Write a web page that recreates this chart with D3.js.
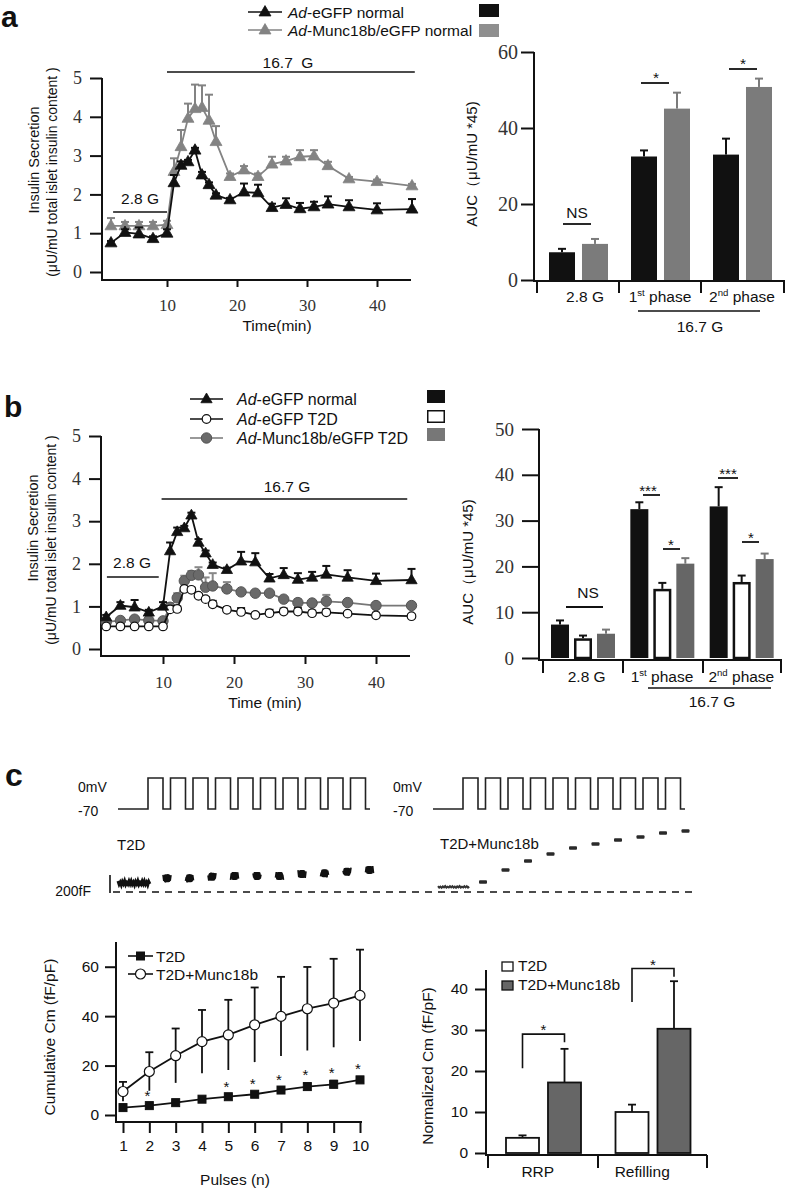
<!DOCTYPE html>
<html><head><meta charset="utf-8">
<script src="https://cdn.jsdelivr.net/npm/d3@7/dist/d3.min.js"></script>
<style>html,body{margin:0;padding:0;background:#fff}</style>
</head><body>
<svg id="fig" width="790" height="1191" xmlns="http://www.w3.org/2000/svg"></svg>
<script>
// ================= DATA =================
// Panel a / b : perifusion time course
const timeMin = [2,4,6,8,10,11,12,13,14,15,16,17,19,21,23,25,27,29,31,33,36,40,45];
const eGFPNormal = [0.75,1.02,0.98,0.86,1.0,2.3,2.75,2.84,3.14,2.5,2.25,1.98,1.86,2.06,2.04,1.66,1.74,1.63,1.68,1.75,1.68,1.6,1.62];
const eGFPNormalErr = [0.05,0.08,0.17,0.06,0.1,0.2,0.1,0.05,0.06,0.08,0.06,0.05,0.05,0.22,0.21,0.1,0.16,0.15,0.13,0.2,0.17,0.17,0.26];
const munc18bNormal = [1.19,1.19,1.19,1.19,1.22,2.59,3.23,3.96,4.21,4.24,3.91,3.36,2.46,2.63,2.46,2.78,2.86,2.97,2.99,2.74,2.4,2.33,2.22];
const munc18bNormalErr = [0.2,0.1,0.1,0.1,0.1,0.34,0.43,0.38,0.62,0.57,0.66,0.4,0.08,0.1,0.08,0.19,0.11,0.17,0.15,0.1,0.05,0.05,0.05];
const eGFPT2D = [0.53,0.53,0.53,0.53,0.53,0.93,0.94,1.41,1.39,1.25,1.17,1.05,0.92,0.87,0.8,0.84,0.88,0.88,0.84,0.86,0.83,0.79,0.77];
const eGFPT2DErr = [0.03,0.03,0.03,0.03,0.03,0.08,0.06,0.05,0.05,0.05,0.05,0.08,0.06,0.09,0.05,0.08,0.07,0.08,0.06,0.07,0.04,0.06,0.04];
const munc18bT2D = [0.63,0.67,0.7,0.67,0.66,0.98,1.2,1.6,1.73,1.74,1.45,1.48,1.41,1.34,1.31,1.31,1.17,1.09,1.08,1.12,1.09,1.02,1.02];
const munc18bT2DErr = [0.05,0.05,0.05,0.05,0.05,0.1,0.11,0.12,0.1,0.18,0.23,0.3,0.16,0.05,0.05,0.05,0.05,0.08,0.05,0.15,0.05,0.05,0.05];
const lowGlucose = [2.3, 10];     // 2.8 G period (min)
const highGlucose = [10, 45.4];   // 16.7 G period (min)
const timeTicks = [10,20,30,40];
const secretionTicks = [0,1,2,3,4,5];

// AUC bars
const aucCategories = ["2.8 G","1st phase","2nd phase"];
const aucA_eGFP = [7.3, 32.5, 33.0];
const aucA_eGFPErr = [0.9, 1.6, 4.2];
const aucA_munc = [9.5, 45.1, 50.8];
const aucA_muncErr = [1.3, 4.2, 2.2];
const aucA_ticks = [0,20,40,60];
const aucB_normal = [7.3, 32.5, 33.1];
const aucB_normalErr = [0.9, 1.5, 4.2];
const aucB_T2D = [4.3, 15.1, 16.6];
const aucB_T2DErr = [0.6, 1.3, 1.4];
const aucB_munc = [5.3, 20.6, 21.6];
const aucB_muncErr = [0.9, 1.2, 1.2];
const aucB_ticks = [0,10,20,30,40,50];

// Panel c : capacitance traces (fF above reference)
const pulseCount = 10;
const traceT2DBase = 100;
const traceT2DSteps = [152,152,170,178,178,178,200,207,226,244];
const traceMuncBase = 56;
const traceMuncSteps = [111,244,344,422,489,533,578,611,656,678];

// Panel c : cumulative Cm
const pulses = [1,2,3,4,5,6,7,8,9,10];
const cmT2D = [3.0,3.8,5.0,6.4,7.4,8.4,10.1,11.5,12.4,14.2];
const cmT2DErr = [0.5,0.5,0.5,0.6,0.8,0.8,1.0,1.3,1.5,1.3];
const cmMunc = [9.5,17.6,24.0,29.7,32.4,36.5,39.9,43.0,45.3,48.4];
const cmMuncErr = [3.9,7.8,11.0,12.8,14.2,15.1,16.0,16.9,17.9,18.5];
const sigPulses = [2,5,6,7,8,9,10];
const cmTicks = [0,20,40,60];

// Panel c : normalized Cm
const poolCategories = ["RRP","Refilling"];
const poolT2D = [3.7, 10.0];
const poolT2DErr = [0.6, 1.8];
const poolMunc = [17.2, 30.3];
const poolMuncErr = [8.2, 11.6];
const poolTicks = [0,10,20,30,40];

// ================= HELPERS =================
const svg = d3.select("#fig");
svg.append("rect").attr("width",790).attr("height",1191).attr("fill","#fff");
const SANS = "'Liberation Sans', Arial, Helvetica, sans-serif";
const SERIF = "'Liberation Serif', 'Times New Roman', serif";
const intFmt = d3.format("d");

function txt(x, y, s, o = {}) {
  const t = svg.append("text").attr("x", x).attr("y", y).text(s)
    .attr("font-family", o.family || SANS).attr("font-size", o.size || 15)
    .attr("fill", o.fill || "#111").attr("text-anchor", o.anchor || "start");
  if (o.weight) t.attr("font-weight", o.weight);
  if (o.rotate) t.attr("transform", `rotate(-90,${x},${y})`);
  return t;
}
function ln(x1, y1, x2, y2, o = {}) {
  return svg.append("line").attr("x1", x1).attr("y1", y1).attr("x2", x2).attr("y2", y2)
    .attr("stroke", o.color || "#111").attr("stroke-width", o.w || 2)
    .attr("stroke-dasharray", o.dash || null);
}
function styleAxis(g, size, family, fill) {
  g.select(".domain").remove();
  g.selectAll(".tick line").attr("stroke", "#111").attr("stroke-width", 2);
  g.selectAll(".tick text").attr("font-family", family).attr("font-size", size).attr("fill", fill);
}
function yAxis(scale, x, ticks, tsize, pad, fsize, family, fill) {
  const g = svg.append("g").attr("transform", `translate(${x},0)`)
    .call(d3.axisLeft(scale).tickValues(ticks).tickFormat(intFmt).tickSize(tsize).tickPadding(pad));
  styleAxis(g, fsize, family, fill);
  return g;
}
function xAxis(scale, y, ticks, tsize, pad, fsize, family, fill) {
  const g = svg.append("g").attr("transform", `translate(0,${y})`)
    .call(d3.axisBottom(scale).tickValues(ticks).tickFormat(intFmt).tickSize(tsize).tickPadding(pad));
  styleAxis(g, fsize, family, fill);
  return g;
}
function marker(x, y, type, st) {
  if (type === "tri") {
    svg.append("path").attr("d", d3.symbol(d3.symbolTriangle).size(st.size || 55)())
      .attr("transform", `translate(${x},${y + 0.5})`).attr("fill", st.fill).attr("stroke", st.stroke || st.fill).attr("stroke-width", 0.8);
  } else if (type === "circle") {
    svg.append("circle").attr("cx", x).attr("cy", y).attr("r", st.r || 4.5)
      .attr("fill", st.fill).attr("stroke", st.stroke).attr("stroke-width", st.sw || 1.2);
  } else if (type === "square") {
    const s = st.s || 8;
    svg.append("rect").attr("x", x - s / 2).attr("y", y - s / 2).attr("width", s).attr("height", s)
      .attr("fill", st.fill).attr("stroke", st.stroke || st.fill);
  }
}
function series(xs, ys, errs, xs_, ys_, st, both) {
  svg.append("path").datum(ys)
    .attr("d", d3.line().x((d, i) => xs_(xs[i])).y(d => ys_(d)))
    .attr("fill", "none").attr("stroke", st.line).attr("stroke-width", st.lw || 1.8);
  ys.forEach((v, i) => {
    const x = xs_(xs[i]);
    const top = ys_(v + errs[i]);
    const bot = both ? ys_(v - errs[i]) : ys_(v);
    ln(x, bot, x, top, { color: st.err, w: st.ew || 2 });
    ln(x - 4, top, x + 4, top, { color: st.err, w: st.ew || 2 });
  });
  ys.forEach((v, i) => marker(xs_(xs[i]), ys_(v), st.type, st));
}
function legendLine(x1, x2, y, type, st, label, lx, size) {
  ln(x1, y, x2, y, { color: st.line, w: 1.6 });
  marker((x1 + x2) / 2, y, type, st);
  const t = svg.append("text").attr("x", lx).attr("y", y + 5.5)
    .attr("font-family", SANS).attr("font-size", size).attr("fill", "#111");
  if (label.startsWith("Ad-")) {
    t.append("tspan").attr("font-style", "italic").text("Ad");
    t.append("tspan").text(label.slice(2));
  } else t.text(label);
}
function catLabel(x, y, cat, size) {
  const t = svg.append("text").attr("x", x).attr("y", y).attr("text-anchor", "middle")
    .attr("font-family", SANS).attr("font-size", size).attr("fill", "#111");
  const m = cat.match(/^(\d)(st|nd) (.*)$/);
  if (m) {
    t.append("tspan").text(m[1]);
    t.append("tspan").attr("font-size", size * 0.62).attr("dy", -size * 0.38).text(m[2]);
    t.append("tspan").attr("dy", size * 0.38).text(" " + m[3]);
  } else t.text(cat);
}
function errUp(x, v, e, yS, color, w, cap) {
  ln(x, yS(v), x, yS(v + e), { color: color, w: w || 2 });
  ln(x - (cap || 4), yS(v + e), x + (cap || 4), yS(v + e), { color: color, w: w || 2 });
}

// ================= PANEL LABELS =================
txt(1, 27, "a", { size: 30, weight: "bold" });
txt(4, 417, "b", { size: 30, weight: "bold" });
txt(5, 786, "c", { size: 32, weight: "bold" });

// ================= PANEL a : time course =================
{
  const x = d3.scaleLinear().domain([0, 45]).range([97, 412]);
  const y = d3.scaleLinear().domain([0, 5]).range([272, 78]);
  yAxis(y, 102, secretionTicks, 12, 8, 18, SERIF, "#333");
  xAxis(x, 280, timeTicks, 7, 12, 17, SERIF, "#333");
  ln(102, 78, 102, 281);
  ln(101, 280, 411, 280);
  txt(277, 331, "Time(min)", { anchor: "middle", size: 15.5 });
  txt(39, 160, "Insulin Secretion", { anchor: "middle", size: 14.5, rotate: true });
  txt(57, 172, "(μU/mU total islet insulin content )", { anchor: "middle", size: 14, rotate: true });
  ln(x(highGlucose[0]), 72, x(highGlucose[1]), 72, { w: 1.6 });
  txt(288, 68, "16.7\u00a0\u00a0G", { anchor: "middle", size: 15.5 });
  ln(x(lowGlucose[0]), 212, x(lowGlucose[1]), 212, { w: 1.6 });
  txt(140, 204, "2.8 G", { anchor: "middle", size: 15.5 });
  const gray = { line: "#838383", err: "#838383", fill: "#838383", type: "tri", size: 62 };
  const black = { line: "#111", err: "#111", fill: "#111", type: "tri", size: 62 };
  series(timeMin, munc18bNormal, munc18bNormalErr, x, y, gray, false);
  series(timeMin, eGFPNormal, eGFPNormalErr, x, y, black, false);
  legendLine(248, 282, 12, "tri", black, "Ad-eGFP normal", 288, 15.5);
  legendLine(248, 282, 30, "tri", gray, "Ad-Munc18b/eGFP normal", 288, 15.5);
  svg.append("rect").attr("x", 479).attr("y", 4).attr("width", 20).attr("height", 13).attr("fill", "#111");
  svg.append("rect").attr("x", 479).attr("y", 24).attr("width", 20).attr("height", 13).attr("fill", "#8f8f8f");
}

// ================= PANEL a : AUC bars =================
{
  const y = d3.scaleLinear().domain([0, 60]).range([280, 52]);
  const xb = d3.scaleBand().domain(aucCategories).range([537, 783]);
  const xs = d3.scaleBand().domain(["eGFP", "munc"]).range([12, 71]).paddingInner(0.212);
  yAxis(y, 534, aucA_ticks, 13, 3, 20, SERIF, "#333");
  ln(534, 52, 534, 282);
  ln(533, 281, 785, 281);
  [537, 619, 701, 784].forEach(v => ln(v, 281, v, 293));
  const groups = [[aucA_eGFP, aucA_eGFPErr, "#111", "eGFP"], [aucA_munc, aucA_muncErr, "#7b7b7b", "munc"]];
  groups.forEach(([vals, errs, col, key]) => {
    vals.forEach((v, i) => {
      const bx = xb(aucCategories[i]) + xs(key);
      errUp(bx + xs.bandwidth() / 2, v, errs[i], y, col, 2, 4);
      svg.append("rect").attr("x", bx).attr("y", y(v)).attr("width", xs.bandwidth())
        .attr("height", y(0) - y(v)).attr("fill", col);
    });
  });
  aucCategories.forEach((c, i) => catLabel(xb(c) + xb.bandwidth() / 2 + (i === 0 ? 7 : 0), 302, c, 15.5));
  ln(638, 311, 760, 311, { w: 1.6 });
  txt(700, 332, "16.7 G", { anchor: "middle", size: 15.5 });
  // significance
  ln(563, 224, 591, 224, { w: 1.8 });
  txt(577, 218, "NS", { anchor: "middle", size: 15.5 });
  ln(641, 83, 669, 83, { w: 1.8 });
  txt(656, 83, "*", { anchor: "middle", size: 15.5 });
  ln(729, 69, 757, 69, { w: 1.8 });
  txt(743, 69, "*", { anchor: "middle", size: 15.5 });
  txt(477, 164, "AUC（μU/mU *45)", { anchor: "middle", size: 15, rotate: true });
}

// ================= PANEL b : time course =================
{
  const x = d3.scaleLinear().domain([0, 45]).range([92, 411.5]);
  const y = d3.scaleLinear().domain([0, 5]).range([649, 436]);
  yAxis(y, 101, secretionTicks, 12, 8, 18, SERIF, "#333");
  xAxis(x, 656, timeTicks, 8, 12, 17, SERIF, "#333");
  ln(101, 436, 101, 657);
  ln(100, 656, 410, 656);
  txt(265, 708, "Time (min)", { anchor: "middle", size: 15.5 });
  txt(38, 528, "Insulin Secretion", { anchor: "middle", size: 14.5, rotate: true });
  txt(56, 540, "(μU/mU total islet insulin content )", { anchor: "middle", size: 14, rotate: true });
  ln(x(9.8), 499, x(44.4), 499, { w: 1.6 });
  txt(287, 492, "16.7 G", { anchor: "middle", size: 15.5 });
  ln(x(2.1), 577, x(9.4), 577, { w: 1.6 });
  txt(132, 568, "2.8 G", { anchor: "middle", size: 15.5 });
  const grayC = { line: "#777", err: "#888", fill: "#6a6a6a", stroke: "#555", type: "circle", r: 5.2, sw: 1 };
  const openC = { line: "#111", err: "#111", fill: "#fff", stroke: "#111", type: "circle", r: 4.3, sw: 1.2 };
  const blackT = { line: "#111", err: "#111", fill: "#111", type: "tri", size: 55 };
  series(timeMin, munc18bT2D, munc18bT2DErr, x, y, grayC, false);
  series(timeMin, eGFPT2D, eGFPT2DErr, x, y, openC, false);
  series(timeMin, eGFPNormal, eGFPNormalErr, x, y, blackT, false);
  legendLine(190, 223, 399, "tri", blackT, "Ad-eGFP normal", 237, 16);
  legendLine(190, 223, 419, "circle", openC, "Ad-eGFP T2D", 237, 16);
  legendLine(190, 223, 438, "circle", grayC, "Ad-Munc18b/eGFP T2D", 237, 16);
  svg.append("rect").attr("x", 427).attr("y", 390).attr("width", 18).attr("height", 13).attr("fill", "#111");
  svg.append("rect").attr("x", 427.75).attr("y", 410.75).attr("width", 16.5).attr("height", 11.5).attr("fill", "#fff").attr("stroke", "#111").attr("stroke-width", 1.5);
  svg.append("rect").attr("x", 427).attr("y", 428).attr("width", 18).attr("height", 13).attr("fill", "#777");
}

// ================= PANEL b : AUC bars =================
{
  const y = d3.scaleLinear().domain([0, 50]).range([658, 429]);
  const xb = d3.scaleBand().domain(aucCategories).range([543, 781]);
  const xs = d3.scaleBand().domain(["normal", "t2d", "munc"]).range([8, 72]).paddingInner(0.217);
  yAxis(y, 539, aucB_ticks, 17, 8, 19, SERIF, "#333");
  ln(539, 429, 539, 661);
  ln(538, 660, 782, 660);
  [543, 623, 703, 781].forEach(v => ln(v, 660, v, 673));
  const groups = [
    [aucB_normal, aucB_normalErr, "#111", "#111", "normal"],
    [aucB_T2D, aucB_T2DErr, "#fff", "#111", "t2d"],
    [aucB_munc, aucB_muncErr, "#666", "#777", "munc"]];
  groups.forEach(([vals, errs, fill, ecol, key]) => {
    vals.forEach((v, i) => {
      const bx = xb(aucCategories[i]) + xs(key);
      errUp(bx + xs.bandwidth() / 2, v, errs[i], y, ecol, 2, 4);
      const r = svg.append("rect").attr("x", bx).attr("y", y(v)).attr("width", xs.bandwidth())
        .attr("height", y(0) - y(v)).attr("fill", fill);
      if (key === "t2d") r.attr("x", bx + 1.25).attr("width", xs.bandwidth() - 2.5).attr("y", y(v) + 1.25)
        .attr("height", y(0) - y(v) - 1.25).attr("stroke", "#111").attr("stroke-width", 2.5);
    });
  });
  aucCategories.forEach((c, i) => catLabel(xb(c) + xb.bandwidth() / 2 + (i === 0 ? 4 : 0), 682, c, 15.5));
  ln(648, 688, 771, 688, { w: 1.6 });
  txt(712, 707, "16.7 G", { anchor: "middle", size: 15.5 });
  ln(566, 607, 603, 607, { w: 1.8 });
  txt(588, 598, "NS", { anchor: "middle", size: 15.5 });
  ln(643, 495, 660, 495, { w: 1.8 });
  txt(648, 496, "***", { anchor: "middle", size: 15 });
  ln(663, 549, 680, 549, { w: 1.8 });
  txt(671, 550, "*", { anchor: "middle", size: 15 });
  ln(718, 478, 738, 478, { w: 1.8 });
  txt(728, 479, "***", { anchor: "middle", size: 15 });
  ln(742, 542, 759, 542, { w: 1.8 });
  txt(751, 543, "*", { anchor: "middle", size: 15 });
  txt(473, 562, "AUC（μU/mU *45)", { anchor: "middle", size: 15, rotate: true });
}

// ================= PANEL c : traces =================
{
  const pre = 30, high = 15, period = 22.5, total = 252;
  const t = d3.scaleLinear().domain([0, total]).range([0, total]);
  const v = d3.scaleLinear().domain([-70, 0]).range([809, 778]);
  const cm = d3.scaleLinear().domain([0, 200]).range([892, 874]);
  const protocol = [[0, -70]];
  for (let k = 0; k < pulseCount; k++) {
    const s = pre + k * period;
    protocol.push([s, -70], [s, 0], [s + high, 0], [s + high, -70]);
  }
  protocol.push([total, -70]);
  [118, 433].forEach((ox) => {
    svg.append("path").datum(protocol)
      .attr("d", d3.line().x(d => ox + t(d[0])).y(d => v(d[1])))
      .attr("fill", "none").attr("stroke", "#222").attr("stroke-width", 1.6);
    txt(ox - 40, 792, "0mV", { size: 14 });
    txt(ox - 40, 816, "-70", { size: 14 });
  });
  // reference dashed line & scale bar
  ln(113, cm(0), 698, cm(0), { w: 1.6, dash: "7,6" });
  ln(110, 875, 110, 893, { w: 1.6 });
  txt(91, 896, "200fF", { anchor: "end", size: 14 });
  txt(117, 850, "T2D", { size: 15 });
  txt(440, 849, "T2D+Munc18b", { size: 15 });
  const jitter = [-1.6, 1.2, -0.6, 1.8, -1.2, 0.7, -1.8, 1.4, -0.4, 1.1, -1.5, 0.9];
  // T2D baseline (noisy)
  const baseL = d3.range(0, 33, 1.1).map((d, i) => [118 + t(d), cm(traceT2DBase) + jitter[i % jitter.length] * 1.2]);
  svg.append("path").attr("d", d3.line()(baseL)).attr("fill", "none").attr("stroke", "#111").attr("stroke-width", 3);
  traceT2DSteps.forEach((val, k) => {
    const cx = 118 + t(pre + k * period + 19);
    const cy = cm(val);
    svg.append("rect").attr("x", cx - 3.5).attr("y", cy - 4).attr("width", 7).attr("height", 8)
      .attr("rx", 2).attr("fill", "#111");
    const pts = d3.range(-4, 4.1, 0.8).map((d, i) => [cx + d, cy + jitter[(i + k) % jitter.length] * 2.2]);
    svg.append("path").attr("d", d3.line()(pts)).attr("fill", "none").attr("stroke", "#111").attr("stroke-width", 1.6);
  });
  // T2D+Munc18b
  const baseR = d3.range(5, 37, 1.2).map((d, i) => [433 + t(d), cm(traceMuncBase) + jitter[i % jitter.length] * 0.5]);
  svg.append("path").attr("d", d3.line()(baseR)).attr("fill", "none").attr("stroke", "#333").attr("stroke-width", 2);
  traceMuncSteps.forEach((val, k) => {
    const cx = 433 + t(pre + k * period + 20);
    svg.append("rect").attr("x", cx - 4).attr("y", cm(val) - 1.8).attr("width", 8).attr("height", 3.6)
      .attr("fill", "#2a2a2a").attr("rx", 1);
  });
}

// ================= PANEL c : cumulative Cm =================
{
  const x = d3.scaleLinear().domain([1, 10]).range([123, 360]);
  const y = d3.scaleLinear().domain([0, 70]).range([1115, 942]);
  yAxis(y, 116, cmTicks, 11, 6, 15.5, SANS, "#111");
  xAxis(x, 1122, pulses, 11, 7, 15.5, SANS, "#111");
  ln(116, 942, 116, 1123);
  ln(115, 1122, 362, 1122);
  txt(235, 1185, "Pulses (n)", { anchor: "middle", size: 15.5 });
  txt(55, 1037, "Cumulative Cm (fF/pF)", { anchor: "middle", size: 15.5, rotate: true });
  const open = { line: "#111", err: "#111", fill: "#fff", stroke: "#111", type: "circle", r: 5, sw: 1.2, lw: 1.8, ew: 1.8 };
  const sq = { line: "#111", err: "#111", fill: "#111", type: "square", s: 8, lw: 1.8, ew: 1.8 };
  series(pulses, cmMunc, cmMuncErr, x, y, open, true);
  series(pulses, cmT2D, cmT2DErr, x, y, sq, true);
  sigPulses.forEach(p => {
    const i = pulses.indexOf(p);
    txt(x(p) - 2, y(cmT2D[i] + cmT2DErr[i]) - 3, "*", { anchor: "middle", size: 15 });
  });
  legendLine(128, 153, 956, "square", sq, "T2D", 156, 15.5);
  legendLine(128, 153, 974, "circle", open, "T2D+Munc18b", 156, 15.5);
}

// ================= PANEL c : normalized Cm =================
{
  const y = d3.scaleLinear().domain([0, 40]).range([1153, 989]);
  const xb = d3.scaleBand().domain(poolCategories).range([488, 707]);
  const xs = d3.scaleBand().domain(["t2d", "munc"]).range([18, 93]).paddingInner(0.214);
  yAxis(y, 486, poolTicks, 11, 7, 15.5, SANS, "#111");
  ln(486, 970, 486, 1156);
  ln(485, 1155, 707, 1155);
  [488, 598, 707].forEach(v => ln(v, 1155, v, 1168));
  [[poolT2D, poolT2DErr, "#fff", "t2d"], [poolMunc, poolMuncErr, "#666", "munc"]].forEach(([vals, errs, fill, key]) => {
    vals.forEach((v, i) => {
      const bx = xb(poolCategories[i]) + xs(key);
      errUp(bx + xs.bandwidth() / 2, v, errs[i], y, "#111", 1.8, 4);
      svg.append("rect").attr("x", bx).attr("y", y(v)).attr("width", xs.bandwidth())
        .attr("height", y(0) - y(v)).attr("fill", fill).attr("stroke", "#111").attr("stroke-width", 1.8);
    });
  });
  poolCategories.forEach(c => txt(xb(c) + xb.bandwidth() / 2 - 10 + (c === "RRP" ? 5 : 0), 1177, c, { anchor: "middle", size: 15.5 }));
  // significance brackets
  const brackets = [[0, 20.7, 29, 27], [1, 36.8, 45, 43]];
  brackets.forEach(([i, lb, top, rb]) => {
    const c = poolCategories[i];
    const x1 = xb(c) + xs("t2d") + xs.bandwidth() / 2;
    const x2 = xb(c) + xs("munc") + xs.bandwidth() / 2;
    svg.append("path").attr("d", `M${x1},${y(lb)}V${y(top)}H${x2}V${y(rb)}`)
      .attr("fill", "none").attr("stroke", "#111").attr("stroke-width", 1.6);
    txt((x1 + x2) / 2, y(top) + 1, "*", { anchor: "middle", size: 15 });
  });
  svg.append("rect").attr("x", 502).attr("y", 962).attr("width", 11).attr("height", 9).attr("fill", "#fff").attr("stroke", "#111").attr("stroke-width", 1.3);
  txt(518, 971, "T2D", { size: 15.5 });
  svg.append("rect").attr("x", 502).attr("y", 981).attr("width", 11).attr("height", 9).attr("fill", "#666").attr("stroke", "#111").attr("stroke-width", 1.3);
  txt(518, 990, "T2D+Munc18b", { size: 15.5 });
  txt(433, 1066, "Normalized Cm (fF/pF)", { anchor: "middle", size: 15.5, rotate: true });
}
</script>
</body></html>
